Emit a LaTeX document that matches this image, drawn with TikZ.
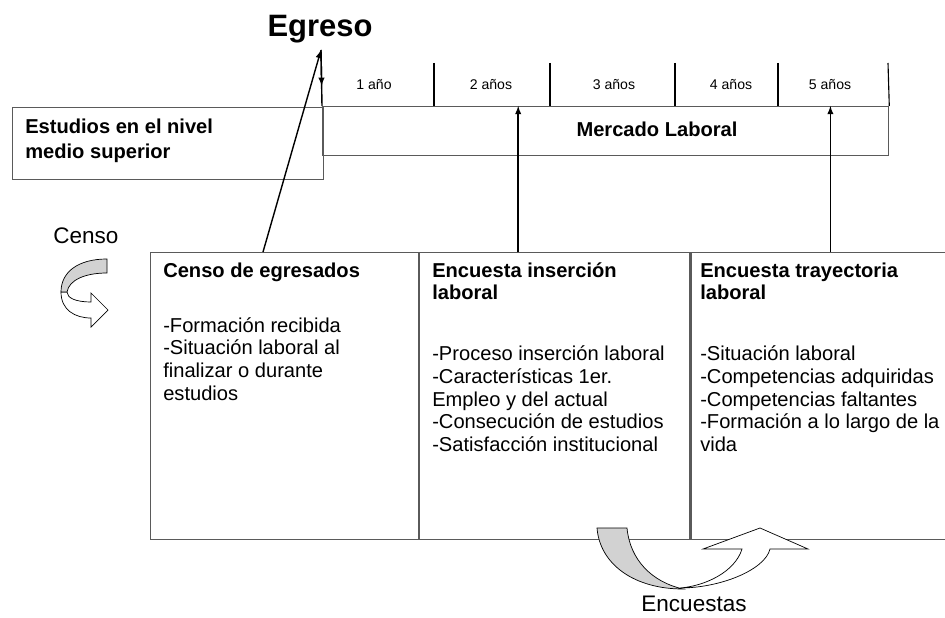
\documentclass[tikz,border=0pt]{standalone}
\usepackage{fontspec}
\setmainfont{Liberation Sans}
\usetikzlibrary{arrows, positioning, calc}
\definecolor{borde}{RGB}{90,90,90}
\definecolor{cinta}{RGB}{210,210,210}

\begin{document}
\begin{tikzpicture}[x=0.025cm, y=-0.025cm,
  caja/.style={draw=borde, line width=0.8pt, inner sep=0pt, anchor=north west},
  flecha/.style={-latex, line width=1pt},
  texto/.style={anchor=north west, align=left, inner sep=0pt, font=\fontsize{14.3}{16.1}\selectfont},
  anio/.style={font=\fontsize{10}{12}\selectfont, anchor=base},
  cintagris/.style={draw=black, line width=0.5pt, fill=cinta},
  cintablanca/.style={draw=black, line width=0.5pt, fill=white}]
\useasboundingbox (0,0) rectangle (945,617);

% linea de tiempo
\node[caja, minimum width=14.15cm, minimum height=1.225cm] (mercado) at (322,106) {};
\node[caja, minimum width=7.775cm, minimum height=1.8cm] (estudios) at (12,107) {};
\node[texto, font=\bfseries\fontsize{14.3}{17.8}\selectfont] (estudiostxt) at (25,119) {Estudios en el nivel\\medio superior};
\node[font=\bfseries\fontsize{14.3}{15.6}\selectfont, anchor=base] (mercadotxt) at (657,137) {Mercado Laboral};
\foreach \x in {434,550,675,778}
  \draw[line width=0.8pt] (\x,63) -- (\x,63 |- mercado.north);
\draw[line width=0.8pt] (888,63) -- (mercado.north east);
\foreach \x/\t [count=\i] in {374/1 año,491/2 años,614/3 años,731/4 años,830/5 años}
  \node[anio] (a\i) at (\x,90) {\t};

\node[font=\bfseries\fontsize{22}{24}\selectfont, anchor=base] (egreso) at (320,37) {Egreso};
\coordinate (egtip) at (321,50);

% instrumentos
\node[caja, minimum width=6.7cm, minimum height=7.175cm] (censo) at (150,252) {};
\node[caja, minimum width=6.75cm, minimum height=7.175cm] (insercion) at (censo.north east) {};
\node[caja, minimum width=7cm, minimum height=7.175cm] (trayectoria) at (insercion.north east) {};

\node[texto] (censotxt) at (163,261) {\strut\textbf{Censo de egresados}\\[23pt]-Formación recibida\\-Situación laboral al\\finalizar o durante\\estudios};
\node[texto] (inserciontxt) at (432,261) {\strut\textbf{Encuesta inserción}\\\textbf{laboral}\\[27.3pt]-Proceso inserción laboral\\-Características 1er.\\Empleo y del actual\\-Consecución de estudios\\-Satisfacción institucional};
\node[texto] (trayectoriatxt) at (700,261) {\strut\textbf{Encuesta trayectoria}\\\textbf{laboral}\\[27.3pt]-Situación laboral\\-Competencias adquiridas\\-Competencias faltantes\\-Formación a lo largo de la\\vida};

% flechas
\draw[flecha] ($(censo.north west)+(113,0)$) -- (egtip);
\draw[line width=1pt] (egtip) -- (mercado.north west);
\draw[flecha] (egtip) -- ($(egtip)!0.64!(mercado.north west)$);
\draw[flecha] ($(insercion.north west)+(99,0)$) coordinate (s2) -- (s2 |- mercado.north);
\draw[flecha] ($(trayectoria.north west)+(140,0)$) coordinate (s5) -- (s5 |- mercado.north);

% censo
\node[font=\fontsize{16}{18}\selectfont, anchor=base] (censolbl) at (86,243) {Censo};
\draw[cintablanca] (61,292) .. controls (61,310) and (75,318) .. (91,318) -- (91,327) -- (108,310) -- (91,293) -- (91,302) .. controls (76,302) and (67,298) .. (67,292) -- cycle;
\draw[cintagris] (107,259) -- (107,273) .. controls (85,273) and (69,280) .. (67,292) -- (61,292) .. controls (61,272) and (78,259) .. (107,259) -- cycle;

% encuestas
\draw[cintablanca] (680,588) .. controls (720,588) and (765,570) .. (770,549) -- (808,549) -- (760,528) -- (703,549) -- (742,549) .. controls (735,572) and (705,586) .. (680,588) -- cycle;
\draw[cintagris] (597,528) -- (627,528) .. controls (630,560) and (652,582) .. (683,589) .. controls (635,589) and (600,565) .. (597,528) -- cycle;
\node[font=\fontsize{16}{18}\selectfont, anchor=base] (encuestaslbl) at (694,611) {Encuestas};
\end{tikzpicture}
\end{document}
